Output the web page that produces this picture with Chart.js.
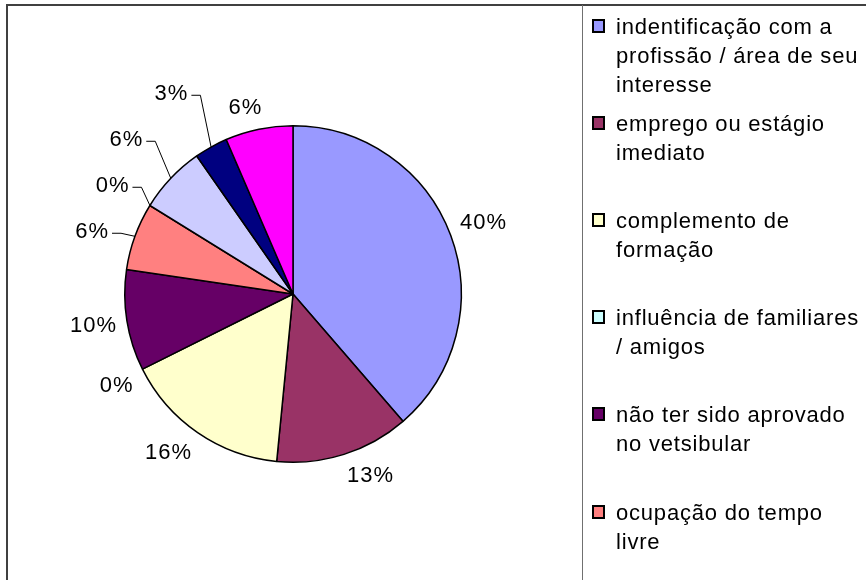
<!DOCTYPE html>
<html>
<head>
<meta charset="utf-8">
<script src="https://cdn.jsdelivr.net/npm/chart.js@4"></script>
<style>
  html, body { margin:0; padding:0; background:#fff; }
  #wrap { position:relative; width:866px; height:580px; overflow:hidden; font-family:"Liberation Sans", Arial, sans-serif; }
  #c { position:absolute; left:0; top:0; }
  #frame { position:absolute; left:6px; top:4px; width:900px; height:620px; border-left:2px solid #404040; border-top:2px solid #404040; }
  #legend { position:absolute; left:582px; top:5px; width:400px; height:620px; border-left:1px solid #707070; }
  .sw { position:absolute; left:9px; width:9px; height:10px; border:2px solid #000; }
  .txt { position:absolute; left:33px; width:300px; font-size:22px; line-height:29px; letter-spacing:0.8px; color:#000; white-space:pre; }
</style>
</head>
<body>
<div id="wrap">
  <canvas id="c" width="866" height="580"></canvas>
  <div id="frame"></div>
  <div id="legend"></div>
</div>
<script>
// ---- data ----
const categories = [
  "indentificação com a\nprofissão / área de seu\ninteresse",
  "emprego ou estágio\nimediato",
  "complemento de\nformação",
  "influência de familiares\n/ amigos",
  "não ter sido aprovado\nno vetsibular",
  "ocupação do tempo\nlivre",
  "outros motivos",
  "remuneração",
  "status da profissão",
  "facilidade de acesso"
];
// slice shares (per cent of the pie)
const shares = [38.7, 12.9, 16.1, 0, 9.7, 6.5, 0, 6.5, 3.2, 6.5];
// data labels as printed in the picture
const pctLabels = ["40%", "13%", "16%", "0%", "10%", "6%", "0%", "6%", "3%", "6%"];
const colors = ["#9999FF", "#993366", "#FFFFCC", "#CCFFFF", "#660066", "#FF8080", "#0066CC", "#CCCCFF", "#000080", "#FF00FF"];

// ---- legend (HTML) ----
const legend = document.getElementById('legend');
categories.forEach((name, i) => {
  const top = 6.5 + i * 97.2;
  const sw = document.createElement('div');
  sw.className = 'sw';
  sw.style.top = (top + 7) + 'px';
  sw.style.background = colors[i];
  legend.appendChild(sw);
  const t = document.createElement('div');
  t.className = 'txt';
  t.style.top = top + 'px';
  t.textContent = name;
  legend.appendChild(t);
});

// ---- pie data labels (outside end), spreading of crowded labels + leader lines ----
const labelPlugin = {
  id: 'pieLabels',
  afterDatasetsDraw(chart) {
    const ctx = chart.ctx;
    const meta = chart.getDatasetMeta(0);
    ctx.save();
    ctx.font = '22px "Liberation Sans", Arial, sans-serif';
    try { ctx.letterSpacing = '1px'; } catch (e) {}
    const gap = 10, hh = 12, minSpace = 46, leaderRoom = 15;
    const L = meta.data.map((arc, i) => {
      const p = arc.getProps(['x', 'y', 'startAngle', 'endAngle', 'outerRadius'], true);
      const mid = (p.startAngle + p.endAngle) / 2;
      const ux = Math.cos(mid), uy = Math.sin(mid);
      const txt = pctLabels[i];
      const w = ctx.measureText(txt).width;
      const t0 = p.outerRadius + gap;
      const ox = Math.sign(ux) * (w / 2) * Math.min(1, Math.abs(ux) / 0.3);
      const oy = Math.sign(uy) * hh * Math.min(1, Math.abs(uy) / 0.45);
      const x0 = p.x + ux * t0 + ox, y0 = p.y + uy * t0 + oy;
      return { txt, w, ux, uy, t0, ox, oy, cx: p.x, cy: p.y, r: p.outerRadius, x0, y0, x: x0, y: y0 };
    });
    [-1, 1].forEach(side => {
      const grp = L.filter(l => Math.sign(l.ux) === side && Math.abs(l.ux) > 0.4)
                   .sort((a, b) => a.y0 - b.y0);
      for (let it = 0; it < 400; it++) {
        let moved = false;
        for (let k = 0; k < grp.length - 1; k++) {
          const a = grp[k], b = grp[k + 1];
          const d = b.y - a.y;
          if (d < minSpace - 0.01) {
            const D = minSpace - d;
            a.y -= 0.68 * D; b.y += 0.32 * D; moved = true;
          }
        }
        if (!moved) break;
      }
      grp.forEach(l => {
        if (Math.abs(l.y - l.y0) < 0.5) { l.y = l.y0; return; }
        const t = (l.y - l.oy - l.cy) / l.uy;
        const rayX = l.cx + l.ux * Math.max(t, l.t0) + l.ox;
        const R = l.r + gap + l.w / 2 + leaderRoom;
        const dy = l.y - l.cy;
        const circX = l.cx + side * Math.sqrt(Math.max(R * R - dy * dy, 0));
        l.x = side < 0 ? Math.min(rayX, circX) : Math.max(rayX, circX);
      });
    });
    ctx.fillStyle = '#000';
    ctx.textAlign = 'center';
    ctx.textBaseline = 'middle';
    L.forEach(l => {
      ctx.fillText(l.txt, l.x, l.y);
      if (Math.hypot(l.x - l.x0, l.y - l.y0) > 4) {
        const ax = l.cx + l.ux * l.r, ay = l.cy + l.uy * l.r;
        const s = l.ux < 0 ? 1 : -1;
        const sx = l.x + s * (l.w / 2 + 3);
        const ex = sx + s * 9;
        ctx.beginPath();
        ctx.strokeStyle = '#000';
        ctx.lineWidth = 1;
        ctx.moveTo(sx, l.y + 1);
        if ((ax - ex) * s > 0) ctx.lineTo(ex, l.y + 1);
        ctx.lineTo(ax, ay);
        ctx.stroke();
      }
    });
    ctx.restore();
  }
};

new Chart(document.getElementById('c'), {
  type: 'pie',
  data: {
    labels: categories,
    datasets: [{
      data: shares,
      backgroundColor: colors,
      borderColor: '#000',
      borderWidth: 1.5,
      hoverBorderWidth: 1.5,
      hoverOffset: 0
    }]
  },
  options: {
    responsive: false,
    animation: false,
    layout: { padding: { left: 124, right: 404, top: 125, bottom: 117 } },
    plugins: { legend: { display: false }, tooltip: { enabled: false } },
    events: []
  },
  plugins: [labelPlugin]
});
</script>
</body>
</html>
